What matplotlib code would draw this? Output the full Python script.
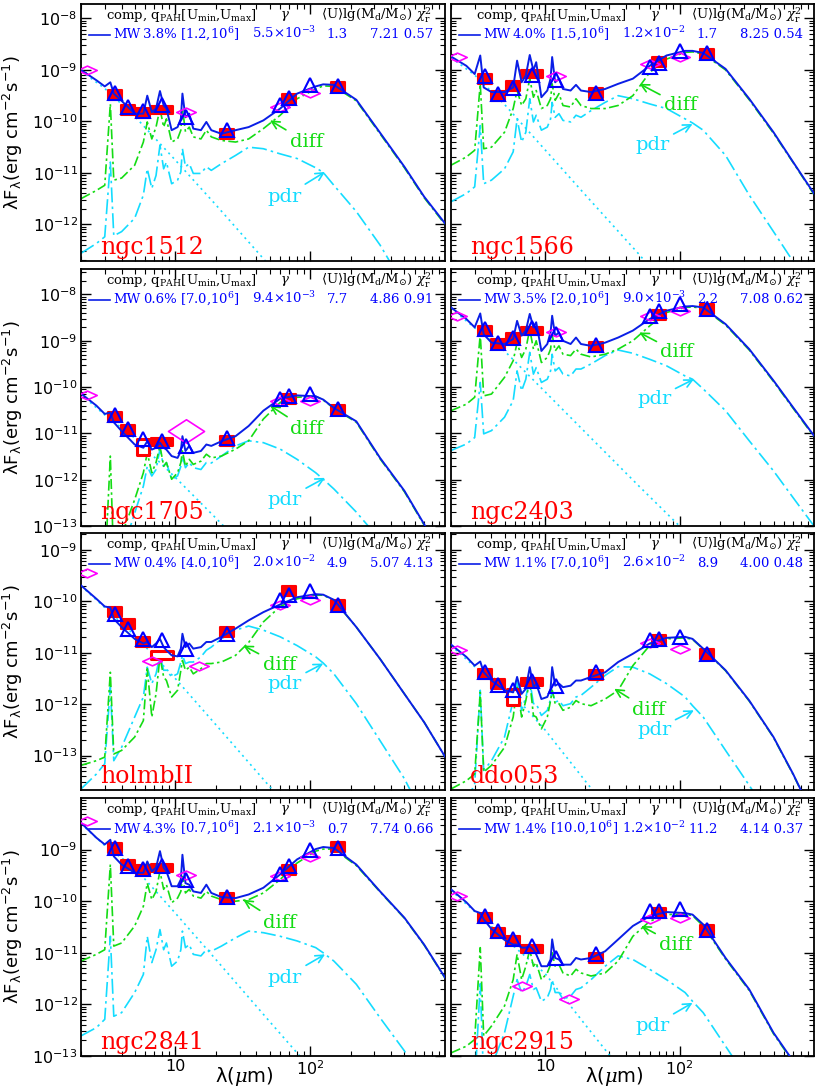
import numpy as np
import matplotlib.pyplot as plt
from matplotlib.path import Path
from matplotlib.ticker import LogLocator, FixedLocator, FixedFormatter, NullFormatter

plt.rcParams['mathtext.fontset'] = 'dejavuserif'

# wavelengths in micron
lam_model = [2.0, 2.6, 3.0, 3.3, 3.5, 4.0, 5.0, 5.8, 6.2, 6.7, 7.2, 7.7, 8.2, 8.6,
             9.4, 10.4, 11.0, 11.3, 11.9, 12.7, 13.6, 15.5, 17.0, 18.5, 22, 28, 35,
             45, 60, 80, 110, 125, 150, 220, 330, 500, 700, 1000]
lam_star = [2, 3, 5, 10, 20, 50, 100]
lam_obs = [3.6, 4.5, 5.8, 8.0, 24, 70, 160]
lam_band = [3.6, 4.5, 5.8, 8.0, 12, 24, 60, 70, 100, 160]

# log10(lambda F_lambda) [erg cm-2 s-1]
ngc1512_total = [-9.0, -9.2, -9.32, -9.24, -9.46, -9.6, -9.85, -9.85, -9.5, -9.82, -9.75, -9.41, -9.69, -9.75,
                 -10.17, -10.11, -9.95, -9.46, -9.92, -9.85, -10.14, -10.17, -10.01, -10.17, -10.24, -10.17, -10.11,
                 -9.98, -9.75, -9.46, -9.32, -9.28, -9.29, -9.58, -10.22, -10.88, -11.46, -11.98]
ngc1512_diff = [-11.5, -11.34, -11.24, -9.66, -11.14, -11.1, -10.85, -10.4, -10.01, -10.34, -10.11, -9.75, -10.11, -9.95,
                -10.4, -10.34, -10.17, -9.75, -10.2, -10.11, -10.3, -10.34, -10.17, -10.3, -10.37, -10.4, -10.34,
                -10.14, -9.88, -9.56, -9.37, -9.31, -9.32, -9.6, -10.24, -10.9, -11.48, -12.0]
ngc1512_pdr = [-12.56, -12.37, -12.24, -10.79, -12.22, -12.14, -11.88, -11.43, -10.92, -11.3, -11.05, -10.46, -10.92, -10.79,
               -11.21, -11.14, -10.98, -10.53, -10.88, -10.82, -11.01, -11.01, -10.88, -10.95, -10.82, -10.66, -10.5,
               -10.53, -10.63, -10.72, -10.9, -10.99, -11.24, -11.75, -12.4, -13.2, -14.0, -14.8]
ngc1512_star = [-9.02, -9.36, -9.9, -10.75, -11.62, -12.8, -13.7]
ngc1512_obs = [-9.48, -9.77, -9.83, -9.77, -10.24, -9.56, -9.34]
ngc1512_band = [-9.45, -9.72, -9.79, -9.69, -9.92, -10.17, -9.69, -9.54, -9.29, -9.32]
ngc1512_lam_other = [2.2, 12, 60, 100]
ngc1512_other = [-9.0, -9.82, -9.72, -9.45]

ngc1566_total = [-8.74, -8.92, -9.08, -8.72, -9.34, -9.43, -9.43, -9.34, -8.82, -9.24, -9.11, -8.71, -9.01, -8.85,
                 -9.53, -9.4, -9.17, -8.75, -9.24, -9.17, -9.37, -9.4, -9.29, -9.4, -9.43, -9.37, -9.27,
                 -9.17, -8.92, -8.72, -8.63, -8.63, -8.67, -8.98, -9.56, -10.21, -10.79, -11.4]
ngc1566_diff = [-10.85, -10.69, -10.56, -9.27, -10.53, -10.5, -10.21, -9.75, -9.4, -9.69, -9.56, -9.17, -9.53, -9.4,
                -9.75, -9.69, -9.56, -9.27, -9.59, -9.46, -9.69, -9.72, -9.56, -9.69, -9.75, -9.75, -9.69,
                -9.5, -9.05, -8.79, -8.66, -8.65, -8.69, -9.0, -9.58, -10.23, -10.8, -11.42]
ngc1566_pdr = [-11.56, -11.4, -11.27, -10.08, -11.21, -11.14, -10.92, -10.59, -9.95, -10.4, -10.21, -9.56, -10.01, -9.88,
               -10.17, -10.11, -9.95, -9.63, -9.92, -9.85, -9.98, -10.01, -9.88, -9.92, -9.79, -9.63, -9.5,
               -9.56, -9.66, -9.75, -9.95, -10.03, -10.17, -10.66, -11.43, -12.14, -12.72, -13.4]
ngc1566_star = [-8.76, -9.1, -9.67, -10.55, -11.43, -12.58, -13.5]
ngc1566_obs = [-9.17, -9.5, -9.32, -9.08, -9.45, -8.85, -8.69]
ngc1566_band = [-9.12, -9.47, -9.35, -9.1, -9.2, -9.44, -8.95, -8.87, -8.63, -8.68]
ngc1566_lam_other = [2.2, 12, 60, 100]
ngc1566_other = [-8.75, -9.12, -8.88, -8.74]

ngc1705_total = [-10.14, -10.4, -10.58, -10.55, -10.76, -10.95, -11.24, -11.31, -11.17, -11.35, -11.31, -11.2, -11.31, -11.35,
                 -11.49, -11.53, -11.38, -11.06, -11.38, -11.27, -11.42, -11.38, -11.24, -11.27, -11.17, -11.06, -10.84,
                 -10.51, -10.25, -10.18, -10.2, -10.27, -10.45, -10.74, -11.53, -12.24, -12.96, -13.8]
ngc1705_diff = [-14.5, -14.2, -14.0, -11.49, -13.8, -13.2, -12.43, -11.85, -11.42, -11.85, -11.63, -11.27, -11.71, -11.63,
                -11.99, -11.85, -11.63, -11.38, -11.71, -11.56, -11.67, -11.6, -11.45, -11.53, -11.49, -11.34, -11.16,
                -10.69, -10.33, -10.22, -10.2, -10.28, -10.46, -10.76, -11.55, -12.26, -12.98, -13.82]
ngc1705_pdr = [-14.5, -14.2, -14.0, -13.0, -13.9, -13.6, -12.72, -12.14, -11.71, -11.92, -11.78, -11.34, -11.71, -11.63,
               -11.99, -11.92, -11.71, -11.49, -11.74, -11.63, -11.74, -11.78, -11.63, -11.64, -11.49, -11.27, -11.16,
               -11.2, -11.34, -11.56, -11.85, -11.99, -12.2, -12.7, -13.3, -14.0, -14.6, -15.2]
ngc1705_star = [-10.16, -10.6, -11.1, -11.95, -12.83, -14.0, -14.9]
ngc1705_obs = [-10.65, -10.92, -11.3, -11.18, -11.16, -10.25, -10.49]
ngc1705_band = [-10.61, -10.9, -11.12, -11.16, -11.27, -11.09, -10.25, -10.2, -10.14, -10.47]
ngc1705_lam_other = [2.2, 12, 60, 100]
ngc1705_other = [-10.18, -10.94, -10.29, -10.29]

ngc2403_total = [-8.28, -8.53, -8.71, -8.41, -8.86, -9.04, -9.07, -8.96, -8.57, -8.89, -8.78, -8.42, -8.71, -8.6,
                 -9.22, -9.07, -8.82, -8.46, -8.89, -8.82, -9.0, -9.07, -8.93, -9.07, -9.11, -9.04, -8.93,
                 -8.78, -8.53, -8.35, -8.26, -8.25, -8.28, -8.64, -9.18, -9.86, -10.44, -11.05]
ngc2403_diff = [-10.51, -10.37, -10.22, -8.86, -10.19, -10.15, -9.79, -9.43, -9.04, -9.36, -9.18, -8.75, -9.18, -9.0,
                -9.47, -9.36, -9.18, -8.86, -9.22, -9.11, -9.29, -9.32, -9.18, -9.29, -9.35, -9.29, -9.18,
                -9.0, -8.68, -8.39, -8.28, -8.27, -8.3, -8.66, -9.2, -9.88, -10.46, -11.07]
ngc2403_pdr = [-11.37, -11.23, -11.09, -9.9, -11.01, -10.94, -10.65, -10.29, -9.65, -10.08, -9.83, -9.25, -9.72, -9.58,
               -9.9, -9.83, -9.65, -9.29, -9.65, -9.58, -9.72, -9.76, -9.61, -9.61, -9.5, -9.32, -9.2,
               -9.27, -9.4, -9.54, -9.76, -9.83, -10.04, -10.51, -11.16, -11.81, -12.39, -13.0]
ngc2403_star = [-8.3, -8.72, -9.22, -10.1, -10.98, -12.14, -13.0]
ngc2403_obs = [-8.78, -9.07, -8.93, -8.78, -9.13, -8.44, -8.32]
ngc2403_band = [-8.74, -9.04, -8.95, -8.73, -8.86, -9.1, -8.46, -8.35, -8.21, -8.32]
ngc2403_lam_other = [2.2, 12, 60, 100]
ngc2403_other = [-8.46, -8.82, -8.46, -8.35]

holmbII_total = [-9.69, -9.95, -10.1, -10.12, -10.34, -10.5, -10.73, -10.82, -10.79, -10.89, -10.82, -10.73, -10.89, -10.95,
                 -11.05, -11.07, -10.92, -10.63, -10.89, -10.82, -10.92, -10.89, -10.79, -10.79, -10.69, -10.53, -10.37,
                 -10.21, -10.06, -9.92, -9.86, -9.87, -9.97, -10.5, -11.12, -11.8, -12.35, -13.02]
holmbII_diff = [-13.19, -13.1, -13.03, -11.38, -12.97, -12.9, -12.64, -12.32, -11.31, -12.25, -11.8, -11.08, -11.47, -11.54,
                -11.86, -11.73, -11.34, -11.15, -11.34, -11.28, -11.41, -11.31, -11.21, -11.21, -11.18, -11.05, -10.8,
                -10.4, -10.1, -9.95, -9.88, -9.88, -9.98, -10.5, -11.12, -11.8, -12.35, -13.02]
holmbII_pdr = [-13.65, -13.36, -13.16, -11.67, -13.1, -12.84, -12.25, -11.86, -11.28, -11.6, -11.41, -11.05, -11.34, -11.34,
               -11.47, -11.41, -11.18, -11.05, -11.21, -11.18, -11.18, -11.08, -10.95, -10.89, -10.73, -10.56, -10.48,
               -10.56, -10.69, -10.86, -11.08, -11.2, -11.41, -11.99, -12.71, -13.45, -14.2, -15.0]
holmbII_star = [-9.7, -10.12, -10.66, -11.5, -12.4, -13.6, -14.5]
holmbII_obs = [-10.21, -10.44, -10.79, -11.05, -10.6, -9.79, -10.08]
holmbII_band = [-10.24, -10.53, -10.73, -10.76, -10.92, -10.63, -9.98, -9.88, -9.79, -10.08]
holmbII_lam_other = [2.2, 6.7, 15, 60, 100]
holmbII_other = [-9.45, -11.16, -11.25, -10.08, -9.98]

ddo053_total = [-10.84, -11.08, -11.25, -11.17, -11.38, -11.54, -11.73, -11.77, -11.47, -11.8, -11.7, -11.28, -11.67, -11.6,
                -11.9, -11.86, -11.7, -11.28, -11.64, -11.6, -11.67, -11.64, -11.54, -11.54, -11.47, -11.38, -11.18,
                -11.02, -10.82, -10.71, -10.69, -10.73, -10.92, -11.34, -11.93, -12.64, -13.36, -14.2]
ddo053_diff = [-13.65, -13.49, -13.36, -11.77, -13.32, -13.19, -12.84, -12.25, -11.67, -12.25, -11.93, -11.54, -12.22, -12.25,
               -12.48, -12.25, -11.93, -11.73, -11.99, -11.99, -12.12, -12.06, -11.93, -11.99, -12.03, -11.9, -11.73,
               -11.25, -10.86, -10.73, -10.71, -10.74, -10.93, -11.35, -11.94, -12.65, -13.37, -14.2]
ddo053_pdr = [-14.3, -13.9, -13.55, -11.73, -13.29, -13.1, -12.64, -11.93, -11.54, -12.12, -11.86, -11.54, -11.99, -11.99,
              -12.22, -12.12, -11.9, -11.73, -11.96, -11.93, -12.03, -11.99, -11.86, -11.83, -11.67, -11.44, -11.27,
              -11.28, -11.41, -11.6, -11.86, -12.03, -12.25, -12.9, -13.58, -14.3, -15.0, -15.8]
ddo053_star = [-10.86, -11.27, -11.62, -12.5, -13.5, -14.8, -15.8]
ddo053_obs = [-11.41, -11.6, -11.86, -11.57, -11.44, -10.76, -11.02]
ddo053_band = [-11.38, -11.62, -11.73, -11.54, -11.64, -11.38, -10.76, -10.73, -10.69, -11.02]
ddo053_lam_other = [2.2, 60, 100]
ddo053_other = [-10.95, -10.81, -10.92]

ngc2841_total = [-8.48, -8.77, -8.9, -8.81, -9.13, -9.29, -9.45, -9.45, -9.23, -9.42, -9.35, -9.03, -9.35, -9.42,
                 -9.71, -9.71, -9.58, -9.1, -9.65, -9.68, -9.81, -9.84, -9.68, -9.84, -9.92, -9.94, -9.87,
                 -9.74, -9.48, -9.19, -8.99, -8.95, -8.97, -9.29, -9.81, -10.32, -10.84, -11.48]
ngc2841_diff = [-11.16, -11.03, -10.94, -9.29, -10.87, -10.81, -10.48, -10.1, -9.65, -9.97, -9.81, -9.42, -9.77, -9.68,
                -10.03, -9.94, -9.81, -9.52, -9.84, -9.77, -9.9, -9.94, -9.81, -9.9, -9.97, -10.0, -9.97,
                -9.84, -9.58, -9.26, -9.03, -8.99, -8.99, -9.31, -9.82, -10.33, -10.85, -11.49]
ngc2841_pdr = [-12.61, -12.45, -12.29, -10.68, -12.23, -12.16, -11.77, -11.42, -10.68, -11.19, -10.94, -10.55, -10.94, -10.81,
               -11.26, -11.16, -10.94, -10.58, -10.9, -10.84, -11.03, -11.06, -10.94, -10.97, -10.87, -10.71, -10.58,
               -10.61, -10.68, -10.77, -10.9, -11.0, -11.16, -11.61, -12.26, -12.9, -13.6, -14.4]
ngc2841_star = [-8.5, -8.92, -9.35, -10.23, -11.13, -12.33, -13.23]
ngc2841_obs = [-8.97, -9.29, -9.39, -9.35, -9.94, -9.39, -8.94]
ngc2841_band = [-8.97, -9.32, -9.37, -9.32, -9.58, -9.92, -9.48, -9.32, -9.01, -8.97]
ngc2841_lam_other = [2.2, 12, 60, 100]
ngc2841_other = [-8.45, -9.5, -9.52, -9.14]

ngc2915_total = [-9.77, -10.02, -10.19, -10.23, -10.35, -10.54, -10.75, -10.84, -10.84, -10.9, -10.9, -10.87, -10.94, -11.03,
                 -11.26, -11.26, -11.13, -10.74, -11.1, -11.13, -11.23, -11.23, -11.1, -11.13, -11.1, -10.97, -10.74,
                 -10.48, -10.29, -10.21, -10.23, -10.26, -10.45, -11.1, -11.71, -12.55, -13.1, -14.0]
ngc2915_diff = [-12.94, -12.81, -12.68, -10.9, -12.61, -12.42, -12.03, -11.52, -11.03, -11.52, -11.26, -10.94, -11.26, -11.19,
                -11.52, -11.39, -11.23, -11.0, -11.26, -11.23, -11.39, -11.45, -11.32, -11.39, -11.45, -11.39, -11.16,
                -10.68, -10.39, -10.26, -10.25, -10.28, -10.48, -11.12, -11.73, -12.57, -13.12, -14.0]
ngc2915_pdr = [-14.2, -14.0, -13.6, -11.6, -13.5, -13.2, -12.55, -11.84, -11.52, -11.77, -11.65, -11.42, -11.71, -11.68,
               -11.94, -11.87, -11.71, -11.52, -11.77, -11.77, -11.9, -11.84, -11.71, -11.68, -11.52, -11.26, -11.06,
               -11.13, -11.32, -11.52, -11.77, -11.94, -12.16, -12.81, -13.5, -14.2, -14.9, -15.6]
ngc2915_star = [-9.79, -10.2, -10.72, -11.4, -12.4, -13.7, -14.7]
ngc2915_obs = [-10.32, -10.61, -10.77, -10.92, -11.1, -10.23, -10.55]
ngc2915_band = [-10.29, -10.58, -10.74, -10.87, -11.1, -11.03, -10.19, -10.19, -10.16, -10.55]
ngc2915_lam_other = [2.2, 6.7, 15, 60, 100]
ngc2915_other = [-9.9, -11.65, -11.9, -10.34, -10.32]

# fit parameters printed in each panel
names = ['ngc1512', 'ngc1566', 'ngc1705', 'ngc2403', 'holmbII', 'ddo053', 'ngc2841', 'ngc2915']
qpah = ['3.8%', '4.0%', '0.6%', '3.5%', '0.4%', '1.1%', '4.3%', '1.4%']
umin = ['1.2', '1.5', '7.0', '2.0', '4.0', '7.0', '0.7', '10.0']
gamma_m = ['5.5', '1.2', '9.4', '9.0', '2.0', '2.6', '2.1', '1.2']
gamma_e = ['-3', '-2', '-3', '-3', '-2', '-2', '-3', '-2']
umean = ['1.3', '1.7', '7.7', '2.2', '4.9', '8.9', '0.7', '11.2']
mdust = ['7.21', '8.25', '4.86', '7.08', '5.07', '4.00', '7.74', '4.14']
chi2 = ['0.57', '0.54', '0.91', '0.62', '4.13', '0.48', '0.66', '0.37']

panels = [
    (ngc1512_total, ngc1512_diff, ngc1512_pdr, ngc1512_star, ngc1512_obs, ngc1512_band, ngc1512_lam_other, ngc1512_other),
    (ngc1566_total, ngc1566_diff, ngc1566_pdr, ngc1566_star, ngc1566_obs, ngc1566_band, ngc1566_lam_other, ngc1566_other),
    (ngc1705_total, ngc1705_diff, ngc1705_pdr, ngc1705_star, ngc1705_obs, ngc1705_band, ngc1705_lam_other, ngc1705_other),
    (ngc2403_total, ngc2403_diff, ngc2403_pdr, ngc2403_star, ngc2403_obs, ngc2403_band, ngc2403_lam_other, ngc2403_other),
    (holmbII_total, holmbII_diff, holmbII_pdr, holmbII_star, holmbII_obs, holmbII_band, holmbII_lam_other, holmbII_other),
    (ddo053_total, ddo053_diff, ddo053_pdr, ddo053_star, ddo053_obs, ddo053_band, ddo053_lam_other, ddo053_other),
    (ngc2841_total, ngc2841_diff, ngc2841_pdr, ngc2841_star, ngc2841_obs, ngc2841_band, ngc2841_lam_other, ngc2841_other),
    (ngc2915_total, ngc2915_diff, ngc2915_pdr, ngc2915_star, ngc2915_obs, ngc2915_band, ngc2915_lam_other, ngc2915_other),
]

# where the "diff"/"pdr" arrows point and where their labels sit (lambda, log flux)
diff_tip = [(50.4, -9.98), (50.4, -9.27), (50.4, -10.4), (50.2, -8.82), (31.9, -10.86), (32.7, -11.7), (31.9, -9.97), (51.9, -10.48)]
diff_txt = [(94, -10.4), (102, -9.69), (94, -10.91), (96, -9.25), (59, -11.23), (59, -12.12), (59, -10.42), (94, -10.84)]
pdr_tip = [(129, -10.98), (125, -10.05), (129, -11.96), (128, -9.83), (125, -11.21), (128, -12.12), (129, -11.03), (125, -11.97)]
pdr_txt = [(65, -11.46), (63, -10.46), (65, -12.43), (65, -10.26), (65, -11.6), (65, -12.51), (65, -11.48), (63, -12.42)]

row_ylim = [(-12.71, -7.72), (-13.0, -7.45), (-13.67, -8.67), (-13.0, -8.0)]
row_labels = [[-8, -9, -10, -11, -12], [-8, -9, -10, -11, -12, -13],
              [-9, -10, -11, -12, -13], [-9, -10, -11, -12, -13]]

# styling details: open (large-error) boxes and the oversized diamond
hollow_obs = {2: [2], 4: [3], 5: [2]}
big_other = {2: [1]}

c_tot = '#0a1ee6'
c_diff = '#14dc14'
c_pdr = '#14dcff'
c_text = '#0000ff'

CL = [Path.MOVETO, Path.LINETO, Path.LINETO, Path.LINETO, Path.CLOSEPOLY]
rect_marker = Path([(-1, -0.65), (1, -0.65), (1, 0.65), (-1, 0.65), (-1, -0.65)], CL)
wide_rect = Path([(-1, -0.38), (1, -0.38), (1, 0.38), (-1, 0.38), (-1, -0.38)], CL)
tall_rect = Path([(-0.8, -1), (0.8, -1), (0.8, 1), (-0.8, 1), (-0.8, -1)], CL)
diam_marker = Path([(-1, 0), (0, 0.45), (1, 0), (0, -0.45), (-1, 0)], CL)
big_diam = Path([(-1, 0), (0, 0.65), (1, 0), (0, -0.65), (-1, 0)], CL)

W, H = 817, 1089
fig = plt.figure(figsize=(W / 100, H / 100), dpi=100)
col_left = [81, 451]
col_w = [364, 363]
row_top = [4, 269, 533, 798]
row_h = [257, 257, 257, 258]

serif = 'DejaVu Serif'
hs = 9.5

for i, (tot, dif, pdr, star, obs, band, lam_oth, oth) in enumerate(panels):
    r, c = divmod(i, 2)
    ax = fig.add_axes([col_left[c] / W, 1 - (row_top[r] + row_h[r]) / H, col_w[c] / W, row_h[r] / H])
    ax.set_xscale('log')
    ax.set_yscale('log')
    lm = np.array(lam_model)

    ax.plot(lam_star, 10 ** np.array(star), color=c_pdr, lw=1.2, dashes=(1.2, 2.4), zorder=2)
    ax.plot(lm, 10 ** np.array(pdr), color=c_pdr, lw=1.2, dashes=(9, 2.5, 1.5, 2.5), zorder=2)
    ax.plot(lm, 10 ** np.array(dif), color=c_diff, lw=1.2, dashes=(6, 2, 1.5, 2), zorder=2)

    for k, (lx, v) in enumerate(zip(lam_obs, obs)):
        if k in hollow_obs.get(i, []):
            ax.plot([lx], [10 ** v], ls='none', marker=tall_rect if lx < 7 else wide_rect,
                    ms=11 if lx < 7 else 16, mfc='white', mec='red', mew=2.2, zorder=3)
        elif lx == 8.0:
            ax.plot([lx], [10 ** v], ls='none', marker=wide_rect, ms=16,
                    mfc='red', mec='red', mew=1.5, zorder=3)
        else:
            ax.plot([lx], [10 ** v], ls='none', marker=rect_marker, ms=10,
                    mfc='red', mec='red', mew=1.5, zorder=3)

    ax.plot(lm, 10 ** np.array(tot), color=c_tot, lw=1.4, zorder=4)
    for k, (lx, v) in enumerate(zip(lam_oth, oth)):
        big = k in big_other.get(i, [])
        ax.plot([lx], [10 ** v], ls='none', marker=big_diam if big else diam_marker,
                ms=26 if big else 14, mfc='none', mec='#ff00ff', mew=1.2, zorder=5)
    ax.plot(lam_band, 10 ** np.array(band), ls='none', marker='^', ms=10,
            mfc='none', mec='blue', mew=1.5, zorder=6)

    ax.annotate('diff', xy=(diff_tip[i][0], 10 ** diff_tip[i][1]),
                xytext=(diff_txt[i][0], 10 ** diff_txt[i][1]),
                color=c_diff, fontsize=14, family=serif, ha='center', va='center',
                arrowprops=dict(arrowstyle='->', color=c_diff, lw=1.2, shrinkA=1, shrinkB=0))
    ax.annotate('pdr', xy=(pdr_tip[i][0], 10 ** pdr_tip[i][1]),
                xytext=(pdr_txt[i][0], 10 ** pdr_txt[i][1]),
                color=c_pdr, fontsize=14, family=serif, ha='center', va='center',
                arrowprops=dict(arrowstyle='->', color=c_pdr, lw=1.2, shrinkA=1, shrinkB=0))

    ax.set_xlim(2, 1000)
    ax.set_ylim(10 ** row_ylim[r][0], 10 ** row_ylim[r][1])

    # header
    pw = col_w[c]
    y1, y2 = 0.94, 0.866
    ax.text(25 / pw, y1, r'comp, q$_{\mathrm{PAH}}$[U$_{\mathrm{min}}$,U$_{\mathrm{max}}$]',
            transform=ax.transAxes, fontsize=hs, family=serif, va='baseline')
    ax.text(204 / pw, y1 + 0.006, r'$\gamma$', transform=ax.transAxes, fontsize=hs, ha='center', va='baseline')
    ax.text(351 / pw, y1, r'$\langle$U$\rangle$lg(M$_{\mathrm{d}}$/M$_{\odot}$) $\chi^2_{\mathrm{r}}$',
            transform=ax.transAxes, fontsize=hs, family=serif, ha='right', va='baseline')
    ax.plot([8 / pw, 29 / pw], [y2 + 0.014, y2 + 0.014], transform=ax.transAxes,
            color=c_tot, lw=1.2, clip_on=False)
    ax.text(32 / pw, y2, 'MW', transform=ax.transAxes, fontsize=hs, family=serif, color=c_text, va='baseline')
    ax.text(62 / pw, y2, qpah[i], transform=ax.transAxes, fontsize=hs, family=serif, color=c_text, va='baseline')
    ax.text(99 / pw, y2, '[' + umin[i] + r',10$^6$]', transform=ax.transAxes, fontsize=hs,
            family=serif, color=c_text, va='baseline')
    ax.text(171 / pw, y2, gamma_m[i] + '×10$^{' + gamma_e[i] + '}$', transform=ax.transAxes,
            fontsize=hs, family=serif, color=c_text, va='baseline')
    ax.text(267 / pw, y2, umean[i], transform=ax.transAxes, fontsize=hs, family=serif,
            color=c_text, ha='right', va='baseline')
    ax.text(352 / pw, y2, mdust[i] + ' ' + chi2[i], transform=ax.transAxes, fontsize=hs,
            family=serif, color=c_text, ha='right', va='baseline')

    ax.text(19 / pw, 0.028, names[i], transform=ax.transAxes, fontsize=17, family=serif,
            color='red', va='baseline')

    # ticks
    ax.yaxis.set_major_locator(FixedLocator([10.0 ** e for e in row_labels[r]]))
    if c == 0:
        ax.yaxis.set_major_formatter(FixedFormatter(
            [r'$\mathregular{10^{%d}}$' % e for e in row_labels[r]]))
    else:
        ax.yaxis.set_major_formatter(NullFormatter())
    ax.yaxis.set_minor_locator(LogLocator(base=10, subs=np.arange(2, 10), numticks=30))
    ax.xaxis.set_major_locator(FixedLocator([10, 100]))
    ax.xaxis.set_minor_locator(LogLocator(base=10, subs=np.arange(2, 10), numticks=30))
    ax.xaxis.set_minor_formatter(NullFormatter())
    ax.yaxis.set_minor_formatter(NullFormatter())
    if r == 3:
        ax.xaxis.set_major_formatter(FixedFormatter(['10', r'$\mathregular{10^2}$']))
    else:
        ax.xaxis.set_major_formatter(NullFormatter())
    ax.tick_params(which='both', direction='in', top=True, right=True, labelsize=11.5)
    ax.tick_params(which='major', length=7, width=1.0, pad=2.5)
    ax.tick_params(which='minor', length=3.5, width=0.8)
    for s in ax.spines.values():
        s.set_linewidth(1.3)

    if c == 0:
        fig.text(13 / W, 1 - (row_top[r] + row_h[r] / 2) / H,
                 r'λF$_\mathregular{λ}$(erg cm$^\mathregular{-2}$s$^\mathregular{-1}$)',
                 rotation=90, ha='center', va='center', fontsize=13)

for c in range(2):
    fig.text((col_left[c] + 163) / W, 1 - 1077 / H, r'λ($\mu$m)', ha='center', va='center', fontsize=14)

fig.savefig('out.png', dpi=100)
